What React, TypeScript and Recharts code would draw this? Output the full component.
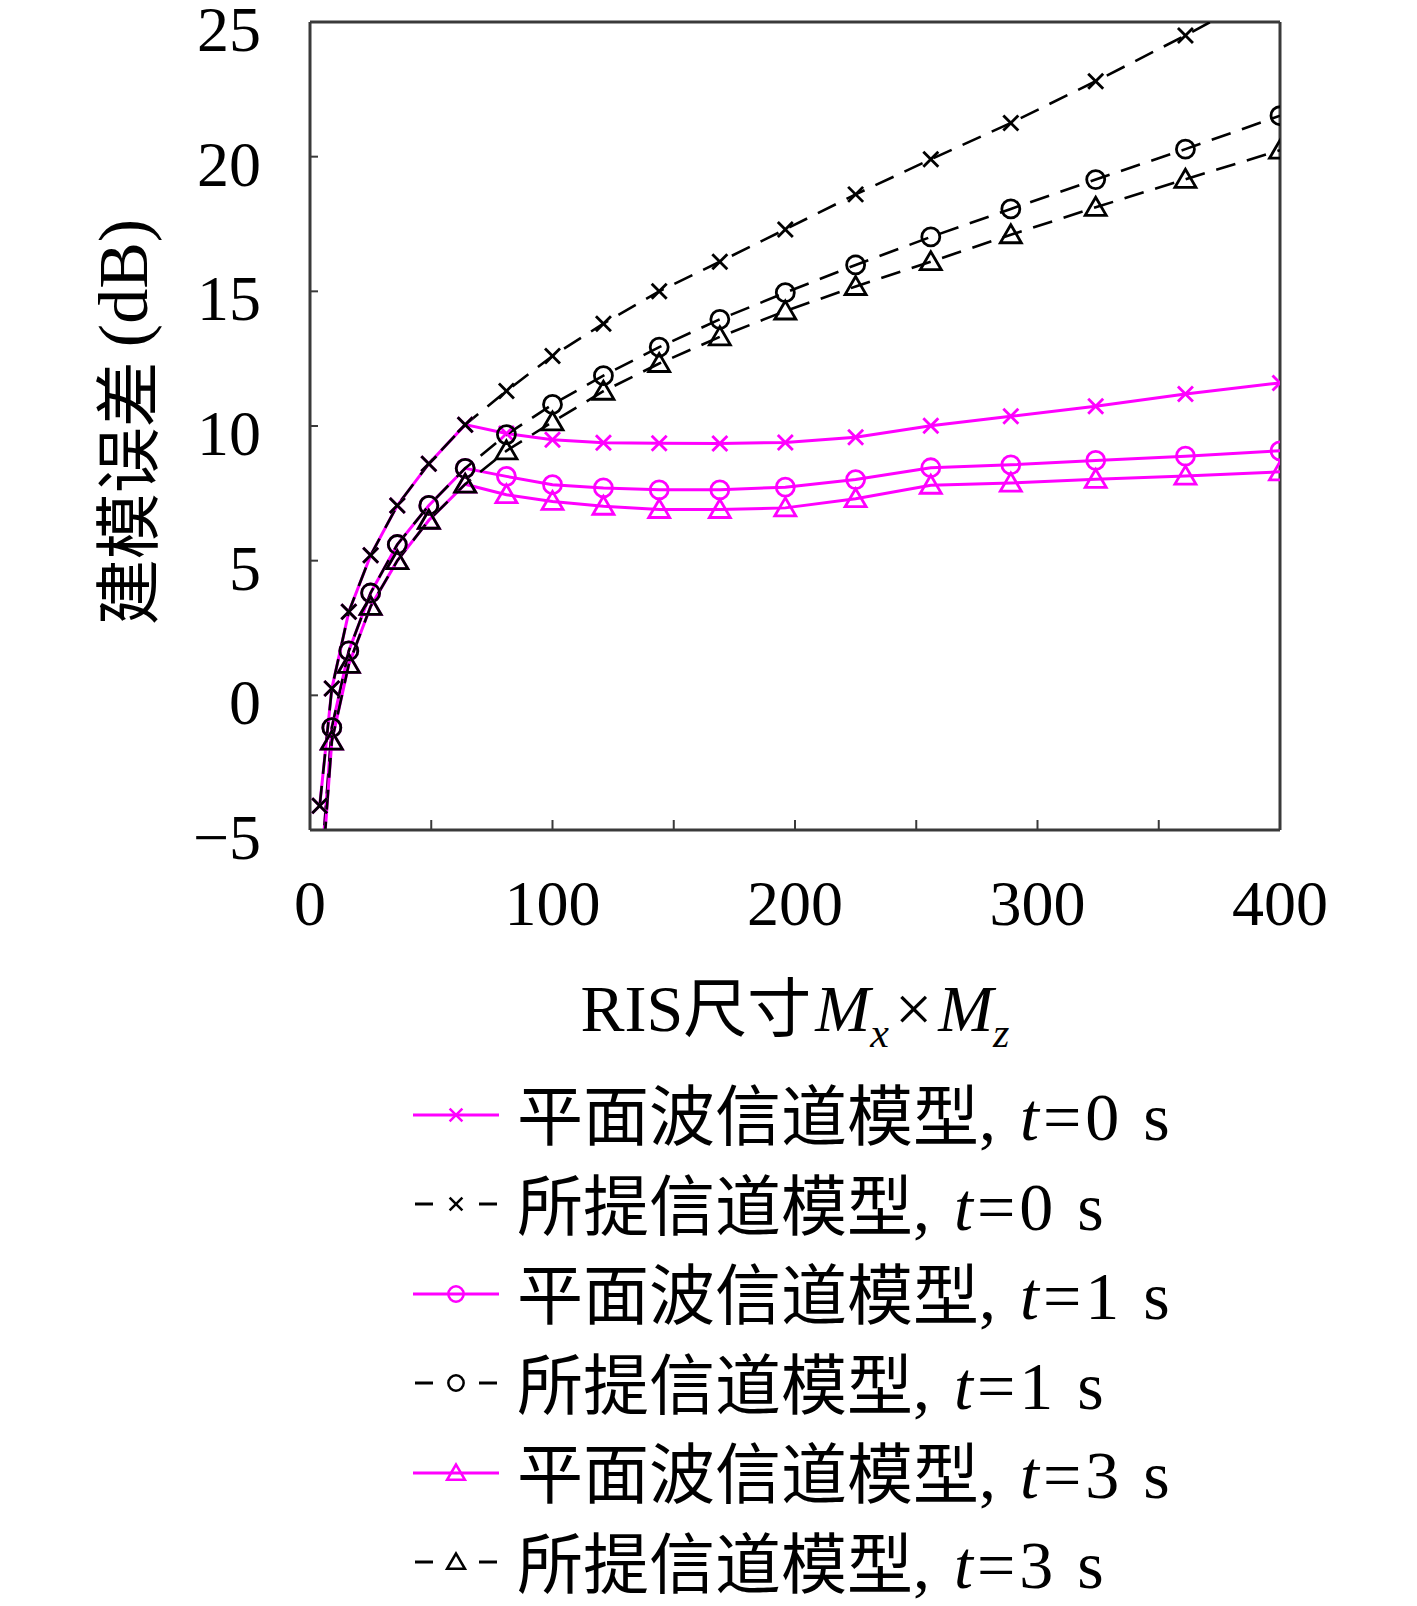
import React from 'react'
import { LineChart, Line, XAxis, YAxis, Label, ReferenceLine } from 'recharts'

// RIS size Mx*Mz (x values)
const sizes = [4, 9, 16, 25, 36, 49, 64, 81, 100, 121, 144, 169, 196, 225, 256, 289, 324, 361, 400]

// modelling error (dB)
const planarT0 = [-4.1, 0.25, 3.1, 5.2, 7.05, 8.6, 10.05, 9.72, 9.49, 9.38, 9.36, 9.35, 9.39, 9.58, 10.01, 10.36, 10.73, 11.19, 11.6]
const proposedT0 = [-4.1, 0.25, 3.1, 5.2, 7.05, 8.6, 10.05, 11.3, 12.6, 13.8, 15.0, 16.1, 17.3, 18.6, 19.9, 21.25, 22.8, 24.5, 26.4]
const planarT1 = [-7.2, -1.2, 1.65, 3.8, 5.6, 7.05, 8.43, 8.13, 7.82, 7.7, 7.63, 7.63, 7.73, 8.01, 8.45, 8.56, 8.72, 8.88, 9.08]
const proposedT1 = [-7.2, -1.2, 1.65, 3.8, 5.6, 7.05, 8.43, 9.68, 10.8, 11.87, 12.93, 13.96, 14.95, 15.98, 17.02, 18.06, 19.15, 20.28, 21.52]
const planarT3 = [-7.8, -1.7, 1.15, 3.3, 5.0, 6.5, 7.84, 7.45, 7.2, 7.02, 6.9, 6.9, 6.96, 7.3, 7.8, 7.88, 8.02, 8.14, 8.3]
const proposedT3 = [-7.8, -1.7, 1.15, 3.3, 5.0, 6.5, 7.84, 9.08, 10.15, 11.29, 12.32, 13.31, 14.27, 15.18, 16.1, 17.1, 18.12, 19.16, 20.24]

const xTicks = [0, 50, 100, 150, 200, 250, 300, 350, 400]
const yTicks = [-5, 0, 5, 10, 15, 20, 25]

const data = sizes.map((x, i) => ({
    x,
    pt0: planarT0[i],
    mt0: proposedT0[i],
    pt1: planarT1[i],
    mt1: proposedT1[i],
    pt3: planarT3[i],
    mt3: proposedT3[i],
}))

const MAGENTA = '#ff00ff'
const AXIS = '#3a3a3a'
const SERIF = '"Liberation Serif", "DejaVu Serif", serif'
const CJK = '"Noto Sans CJK SC", sans-serif'

type Shape = 'cross' | 'circle' | 'triangle'

function Marker({ shape, cx, cy, color, s = 1 }: { shape: Shape; cx: number; cy: number; color: string; s?: number }) {
    const sw = 2.8 * Math.max(s, 0.9)
    if (shape === 'cross') {
        const d = 7.5 * s
        return (
            <g stroke={color} strokeWidth={sw}>
                <line x1={cx - d} y1={cy - d} x2={cx + d} y2={cy + d} />
                <line x1={cx - d} y1={cy + d} x2={cx + d} y2={cy - d} />
            </g>
        )
    }
    if (shape === 'circle') {
        return <circle cx={cx} cy={cy} r={9 * s} fill="none" stroke={color} strokeWidth={sw} />
    }
    const w = 10.5 * s
    return (
        <polygon
            points={`${cx},${cy - 10 * s} ${cx - w},${cy + 8 * s} ${cx + w},${cy + 8 * s}`}
            fill="none"
            stroke={color}
            strokeWidth={sw}
        />
    )
}

const dotFor = (shape: Shape, color: string) => (props: any) => {
    const { cx, cy, index } = props
    if (cx == null || cy == null) return <g key={index} />
    return (
        <g key={index}>
            <Marker shape={shape} cx={cx} cy={cy} color={color} />
        </g>
    )
}

const series = [
    { key: 'pt0', color: MAGENTA, dashed: false, shape: 'cross' as Shape, name: '平面波信道模型', t: '0' },
    { key: 'mt0', color: '#000', dashed: true, shape: 'cross' as Shape, name: '所提信道模型', t: '0' },
    { key: 'pt1', color: MAGENTA, dashed: false, shape: 'circle' as Shape, name: '平面波信道模型', t: '1' },
    { key: 'mt1', color: '#000', dashed: true, shape: 'circle' as Shape, name: '所提信道模型', t: '1' },
    { key: 'pt3', color: MAGENTA, dashed: false, shape: 'triangle' as Shape, name: '平面波信道模型', t: '3' },
    { key: 'mt3', color: '#000', dashed: true, shape: 'triangle' as Shape, name: '所提信道模型', t: '3' },
]

function XTick(props: any) {
    const { x, y, payload } = props
    if (payload.value % 100 !== 0) return <g />
    return (
        <text x={x} y={y + 105} textAnchor="middle" fontSize={64} fontFamily={SERIF} fill="#000">
            {payload.value}
        </text>
    )
}

function YTick(props: any) {
    const { x, y, payload } = props
    return (
        <text x={x} y={y + 29} textAnchor="end" fontSize={64} fontFamily={SERIF} fill="#000">
            {String(payload.value).replace('-', '\u2212')}
        </text>
    )
}

function XTitle({ viewBox }: any) {
    const cx = viewBox.x + viewBox.width / 2
    const y = viewBox.y + 201
    return (
        <text x={cx} y={y} textAnchor="middle" fontSize={66} fill="#000">
            <tspan fontFamily={SERIF}>RIS</tspan>
            <tspan fontFamily={CJK} fontSize={64}>尺寸</tspan>
            <tspan fontFamily={SERIF} fontStyle="italic" dx={4}>M</tspan>
            <tspan fontFamily={SERIF} fontStyle="italic" fontSize={42} dy={16}>x</tspan>
            <tspan fontFamily={SERIF} dy={-16} dx={6}>×</tspan>
            <tspan fontFamily={SERIF} fontStyle="italic" dx={6}>M</tspan>
            <tspan fontFamily={SERIF} fontStyle="italic" fontSize={42} dy={16}>z</tspan>
        </text>
    )
}

function YTitle({ viewBox }: any) {
    const x = 123
    const y = viewBox.y + viewBox.height / 2 - 4
    return (
        <text
            x={x}
            y={y}
            textAnchor="middle"
            dominantBaseline="central"
            transform={`rotate(-90 ${x} ${y})`}
            fontSize={70}
            fill="#000"
        >
            <tspan fontFamily={CJK} fontSize={66}>建模误差</tspan>
            <tspan fontFamily={SERIF} dx={14}>(dB)</tspan>
        </text>
    )
}

function ChartLegend() {
    return (
        <div style={{ position: 'absolute', left: 413, top: 1070, width: 1000 }}>
            {series.map((s) => (
                <div key={s.key} style={{ display: 'flex', alignItems: 'center', height: 89.5 }}>
                    <svg width={86} height={40} style={{ flex: 'none' }}>
                        {s.dashed ? (
                            <g stroke={s.color} strokeWidth={3}>
                                <line x1={2} y1={20} x2={20} y2={20} />
                                <line x1={66} y1={20} x2={84} y2={20} />
                            </g>
                        ) : (
                            <line x1={0} y1={20} x2={86} y2={20} stroke={s.color} strokeWidth={3} />
                        )}
                        <Marker shape={s.shape} cx={43} cy={20} color={s.color} s={0.85} />
                    </svg>
                    <span style={{ marginLeft: 18, fontSize: 68, lineHeight: 1, whiteSpace: 'nowrap', color: '#000' }}>
                        <span style={{ fontFamily: CJK, fontSize: 66 }}>{s.name}</span>
                        <span style={{ fontFamily: SERIF }}>,</span>
                        <span style={{ fontFamily: SERIF, fontStyle: 'italic', marginLeft: 24 }}>t</span>
                        <span style={{ fontFamily: SERIF, marginLeft: 4 }}>=</span>
                        <span style={{ fontFamily: SERIF, marginLeft: 4 }}>{s.t}</span>
                        <span style={{ fontFamily: SERIF, marginLeft: 24 }}>s</span>
                    </span>
                </div>
            ))}
        </div>
    )
}

export default function App() {
    return (
        <div style={{ position: 'relative', width: 1417, height: 1606, background: '#fff' }}>
            <style>{'body{margin:0}'}</style>
            <LineChart width={1417} height={1606} data={data} margin={{ top: 22, right: 137, bottom: 0, left: 0 }}>
                <XAxis
                    dataKey="x"
                    type="number"
                    domain={[0, 400]}
                    ticks={xTicks}
                    allowDataOverflow
                    height={776}
                    tickSize={-10}
                    tickMargin={0}
                    tick={<XTick />}
                    axisLine={{ stroke: AXIS, strokeWidth: 3 }}
                    tickLine={{ stroke: AXIS, strokeWidth: 2 }}
                >
                    <Label content={<XTitle />} />
                </XAxis>
                <YAxis
                    type="number"
                    domain={[-5, 25]}
                    ticks={yTicks}
                    allowDataOverflow
                    width={310}
                    tickSize={-8}
                    tickMargin={57}
                    tick={<YTick />}
                    axisLine={{ stroke: AXIS, strokeWidth: 3 }}
                    tickLine={{ stroke: AXIS, strokeWidth: 2 }}
                >
                    <Label content={<YTitle />} />
                </YAxis>
                <ReferenceLine y={25} stroke={AXIS} strokeWidth={3} />
                <ReferenceLine x={400} stroke={AXIS} strokeWidth={3} />
                {series.map((s) => (
                    <Line
                        key={s.key}
                        type="linear"
                        dataKey={s.key}
                        stroke={s.color}
                        strokeWidth={s.dashed ? 2.6 : 3}
                        strokeDasharray={s.dashed ? '20 12' : undefined}
                        dot={dotFor(s.shape, s.color)}
                        activeDot={false}
                        isAnimationActive={false}
                    />
                ))}
            </LineChart>
            <ChartLegend />
        </div>
    )
}
